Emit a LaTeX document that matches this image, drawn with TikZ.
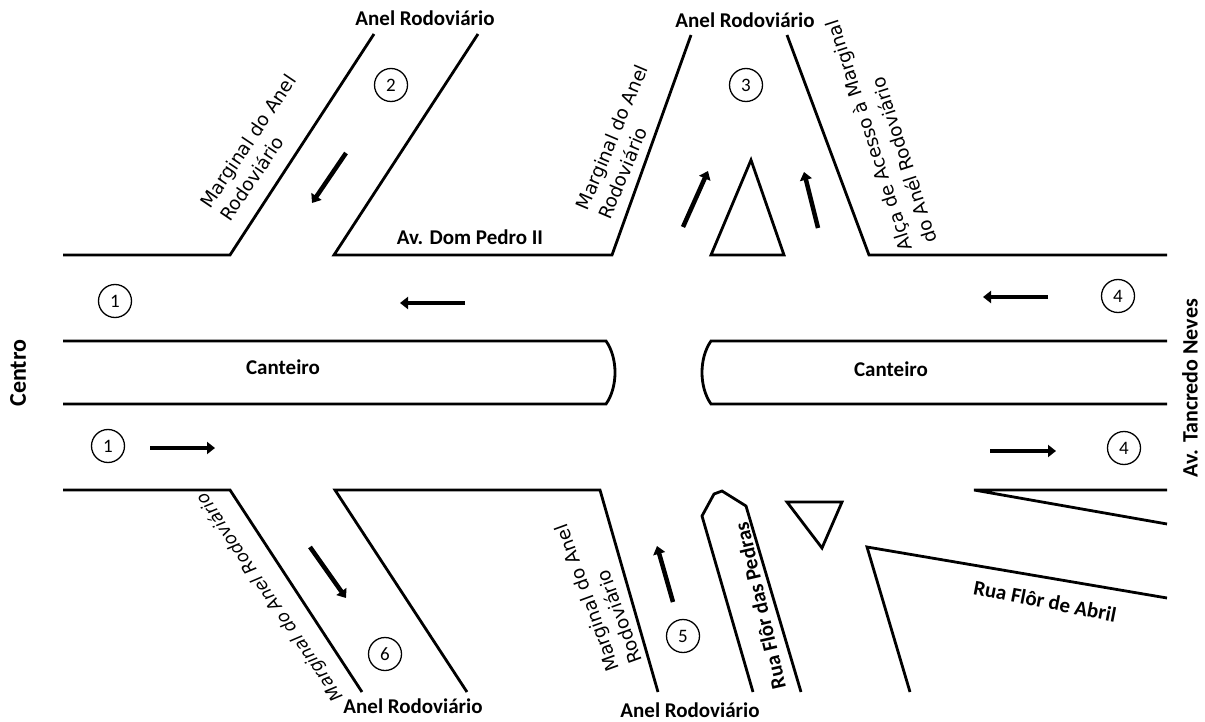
\documentclass[tikz,border=0pt]{standalone}
\usepackage{fontspec}
\setmainfont{Carlito}
\newfontfamily\dvfont{DejaVu Sans}
\usetikzlibrary{arrows.meta}
\begin{document}
\begin{tikzpicture}[x=1pt,y=-1pt,
  road/.style={line width=2.8pt, line join=miter},
  dirarrow/.style={line width=4.5pt, -{Triangle[length=8pt,width=12pt]}},
  num/.style={circle, draw, line width=1.3pt, minimum size=33pt, inner sep=0pt, font=\fontsize{19}{19}\selectfont},
  lbl/.style={inner sep=0pt, font=\bfseries\fontsize{21}{25}\selectfont},
  side/.style={inner sep=0pt, align=left, font=\dvfont\fontsize{18.5}{24}\selectfont}]
\useasboundingbox (0,0) rectangle (1205,722);
% --- top roads
\draw[road] (63,255) -- (230,255) -- (374,34);
\draw[road] (478,34) -- (334,255) -- (612,255) -- (691,35);
\draw[road] (787,35) -- (869,255) -- (1167,255);
\draw[road] (751,160) -- (711,255) -- (784,255) -- cycle;
% --- medians
\draw[road] (63,341) -- (606,341) .. controls (618,358) and (618,387) .. (606,404) -- (63,404);
\draw[road] (1167,341) -- (711,341) .. controls (699,358) and (699,387) .. (711,404) -- (1167,404);
% --- bottom roads
\draw[road] (63,490) -- (230,490) -- (362,692);
\draw[road] (467,692) -- (335,490) -- (600,490) -- (658,692);
\draw[road] (753,692) -- (702,516) -- (714,494) -- (722,491) -- (746,506) -- (801,692);
\draw[road] (787,502) -- (842,502) -- (822,548) -- cycle;
\draw[road] (1167,490) -- (974,490) -- (1167,524);
\draw[road] (910,692) -- (867,547) -- (1167,598);
% --- numbered circles
\node[num] (c1a) at (115,301) {1};
\node[num] (c1b) at (108,446) {1};
\node[num] (c2) at (391,85) {2};
\node[num] (c3) at (746,85) {3};
\node[num] (c4a) at (1118,296) {4};
\node[num] (c4b) at (1124,448) {4};
\node[num] (c5) at (683,636) {5};
\node[num] (c6) at (385,654) {6};
% --- direction arrows
\coordinate (a1s) at (465,303); \coordinate (a1e) at (400,303);
\coordinate (a2s) at (150,448); \coordinate (a2e) at (215,448);
\coordinate (a3s) at (346,153); \coordinate (a3e) at (312,203);
\coordinate (a4s) at (683,227); \coordinate (a4e) at (708,171);
\coordinate (a5s) at (818,228); \coordinate (a5e) at (804,172);
\coordinate (a6s) at (1048,297); \coordinate (a6e) at (983,297);
\coordinate (a7s) at (990,451); \coordinate (a7e) at (1056,451);
\coordinate (a8s) at (310,547); \coordinate (a8e) at (346,598);
\coordinate (a9s) at (673,602); \coordinate (a9e) at (657,546);
\foreach \i in {1,...,9} \draw[dirarrow] (a\i s) -- (a\i e);
% --- labels
\node[lbl] (anel1) at (425,18) {Anel Rodoviário};
\node[lbl] (anel2) at (745,20) {Anel Rodoviário};
\node[lbl] (anel3) at (413,706) {Anel Rodoviário};
\node[lbl] (anel4) at (690,710) {Anel Rodoviário};
\node[lbl] (dompedro) at (470,237) {Av. Dom Pedro II};
\node[lbl] (cant1) at (283,367) {Canteiro};
\node[lbl] (cant2) at (891,369) {Canteiro};
\node[lbl, rotate=90, font=\bfseries\fontsize{24}{28}\selectfont] (centro) at (18,373) {Centro};
\node[lbl, rotate=90, font=\bfseries\fontsize{22}{26}\selectfont] (tancredo) at (1190,388) {Av. Tancredo Neves};
\node[lbl, rotate=-11] (abril) at (1045,601) {Rua Flôr de Abril};
\node[lbl, rotate=103] (pedras) at (760,606) {Rua Flôr das Pedras};
\node[side, rotate=56] (marg2) at (258,148) {Marginal do Anel\\Rodoviário};
\node[side, rotate=67] (marg3) at (623,142) {Marginal do Anel\\Rodoviário};
\node[side, rotate=108, font=\dvfont\fontsize{18.5}{26}\selectfont] (alca) at (881,132) {Alça de Acesso à Marginal\\do Anél Rodoviário};
\node[side, rotate=110] (marg5) at (598,594) {Marginal do Anel\\Rodoviário};
\node[side, rotate=124, font=\dvfont\itshape\fontsize{17.5}{23}\selectfont] (marg6) at (270,597) {Marginal do Anel Rodoviário};
\end{tikzpicture}
\end{document}
